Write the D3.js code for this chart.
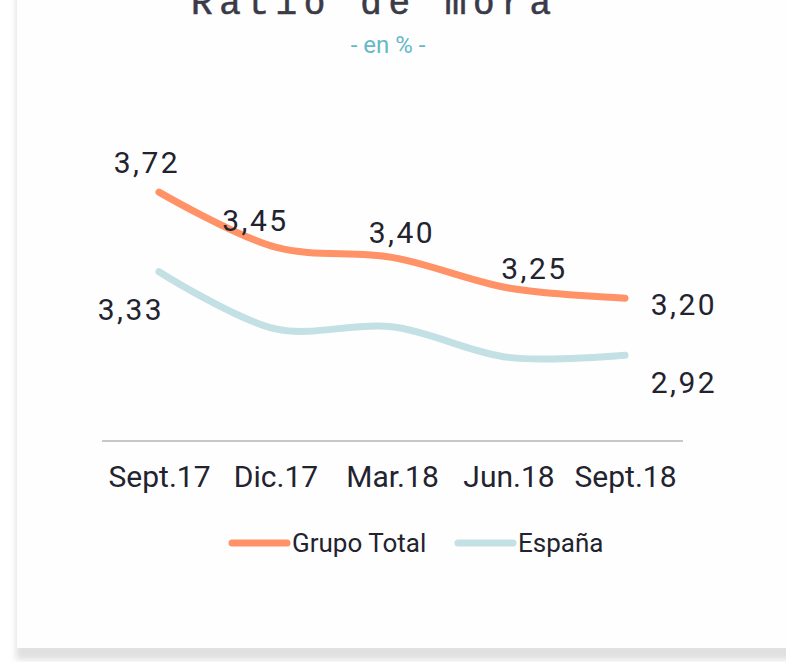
<!DOCTYPE html>
<html>
<head>
<meta charset="utf-8">
<script src="https://cdn.jsdelivr.net/npm/d3@7"></script>
<style>
  html, body { margin: 0; padding: 0; background: #ffffff; overflow: hidden; }
  text { font-family: Roboto, "Noto Sans", sans-serif; }
</style>
</head>
<body>
<div id="chart"></div>
<script>
var WIDTH = 786;
var HEIGHT = 662;

// data
const periods = ["Sept.17", "Dic.17", "Mar.18", "Jun.18", "Sept.18"];
const grupoTotal = [3.72, 3.45, 3.40, 3.25, 3.20];
const espana = [3.33, 3.05, 3.06, 2.91, 2.92];
const seriesNames = ["Grupo Total", "España"];
const seriesColors = ["#ff9266", "#c3e0e4"];
const yDomain = [2.5, 4.0];

// hand placed data labels (point index, dx, dy) like in the original
const labelOffsets = [
    [[0, -12, -19], [1, -20, -16], [2, 10, -14], [3, 26, -9], [4, 59, 17]],
    [[0, -28, 48], [4, 59, 38]]
];

const svg = d3.select('#chart').append("svg").attr("width", WIDTH).attr("height", HEIGHT)

// card with shadow
const defs = svg.append("defs")
const filt = defs.append("filter").attr("id", "shadow").attr("x", "-10%").attr("y", "-10%").attr("width", "130%").attr("height", "130%")
filt.append("feDropShadow").attr("dx", -1).attr("dy", 12).attr("stdDeviation", 3)
    .attr("flood-color", "#000").attr("flood-opacity", 0.12)
svg.append("rect").attr("x", 17).attr("y", -60).attr("width", 820).attr("height", 708)
    .attr("fill", "#fefefe").attr("filter", "url(#shadow)")

// title (cut at the top edge, as in the original)
svg.append("text").attr("x", 191).attr("y", 14).text("Ratio de mora")
    .style("font-family", "'Liberation Mono', 'DejaVu Sans Mono', monospace")
    .style("font-size", "36px").style("letter-spacing", "6.6px")
    .attr("fill", "#3a3a48").attr("stroke", "#3a3a48").attr("stroke-width", 0.6)
svg.append("text").attr("x", 388).attr("y", 53).attr("text-anchor", "middle").text("- en % -")
    .style("font-size", "24px").attr("fill", "#66b8c8")

// scales
const x = d3.scalePoint().domain(periods).range([159, 625])
const y = d3.scaleLinear().domain(yDomain).range([441, 135])

// x axis
const xAxis = d3.axisBottom(x).tickSize(0).tickPadding(0)
const gx = svg.append("g").attr("transform", "translate(0,441)").call(xAxis)
gx.select(".domain").attr("d", "M102,0H683").attr("stroke", "#c8c8c8").attr("stroke-width", 2)
gx.selectAll(".tick text").attr("y", 46).attr("dy", 0).style("font-size", "30px")
    .style("font-family", "Roboto, sans-serif").attr("fill", "#23232f")

// lines
const line = d3.line().x((d, i) => x(periods[i])).y(d => y(d)).curve(d3.curveCatmullRom.alpha(0.5))
const allSeries = [grupoTotal, espana]
allSeries.slice().reverse().forEach((s, j) => {
    const k = allSeries.length - 1 - j
    svg.append("path").datum(s).attr("d", line).attr("fill", "none")
        .attr("stroke", seriesColors[k]).attr("stroke-width", 7).attr("stroke-linecap", "round")
})

// data labels
const fmt = v => d3.format(".2f")(v).replace(".", ",")
allSeries.forEach((s, k) => {
    labelOffsets[k].forEach(o => {
        const i = o[0]
        svg.append("text").attr("x", x(periods[i]) + o[1]).attr("y", y(s[i]) + o[2])
            .attr("text-anchor", "middle").style("font-size", "30px").style("letter-spacing", "2.5px")
            .attr("fill", "#23232f").text(fmt(s[i]))
    })
})

// legend
const legendX = [232, 458]
seriesNames.forEach((name, k) => {
    const row = svg.append("g").attr("transform", "translate(" + legendX[k] + ",543)")
    row.append("line").attr("x1", 0).attr("x2", 55).attr("stroke", seriesColors[k])
        .attr("stroke-width", 7).attr("stroke-linecap", "round")
    row.append("text").attr("x", 60).attr("y", 9).style("font-size", "26px").attr("fill", "#23232f").text(name)
})
</script>
</body>
</html>
